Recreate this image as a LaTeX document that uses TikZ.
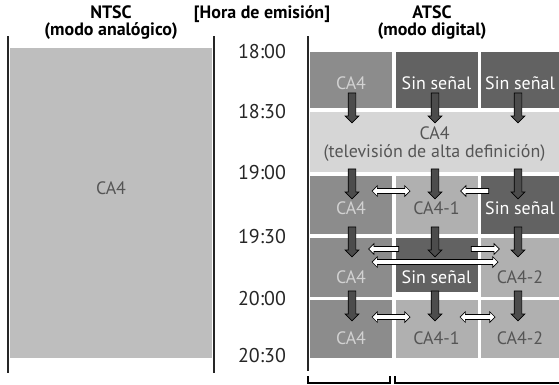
\documentclass[tikz,border=0pt]{standalone}
\usepackage{fontspec}
\setmainfont{PT Sans}
\usepackage{tikz}
\usetikzlibrary{arrows.meta, shapes.arrows, positioning}
\definecolor{grisntsc}{RGB}{190,190,190}
\definecolor{grismedio}{RGB}{140,140,140}
\definecolor{grisoscuro}{RGB}{98,98,98}
\definecolor{grisclaro}{RGB}{176,176,176}
\definecolor{grishd}{RGB}{214,214,214}
\definecolor{textogris}{RGB}{85,85,85}
\definecolor{textoclaro}{RGB}{210,210,210}
\tikzset{
  >=latex,
  % Textos de cabecera y horas
  titulo/.style={font=\bfseries\fontsize{18}{17}\selectfont, align=center},
  hora/.style={font=\fontsize{20}{22}\selectfont, text=black!85},
  linea/.style={line width=2.4bp, black!85},
  % Celdas de la parrilla
  celda/.style={rectangle, inner sep=0pt, minimum width=82bp, text depth=0pt,
    font=\fontsize{18}{18}\selectfont},
  celda ca/.style={celda, fill=grismedio, text=textoclaro},
  celda sin/.style={celda, fill=grisoscuro, text=white},
  celda sub/.style={celda, fill=grisclaro, text=textogris},
  celda hd/.style={celda, fill=grishd, text=textogris, minimum width=249bp, align=center},
  % Filas: alto y posicion del texto
  fila 1/.style={minimum height=56bp, text height=18.6bp},
  fila 2/.style={minimum height=60bp},
  fila 3/.style={minimum height=58bp, text height=18.6bp},
  fila 4/.style={minimum height=59bp, text height=32.6bp},
  fila 5/.style={minimum height=58bp, text height=30.6bp},
  % Flechas
  baja/.style={single arrow, draw=black, line width=0.7bp, fill=black!70, rotate=-90,
    minimum height=30bp, minimum width=13bp, inner xsep=0pt, inner ysep=3.5bp,
    single arrow head extend=3bp},
  doble/.style={double arrow, draw=black, line width=0.7bp, fill=white,
    minimum height=#1, minimum width=10bp, inner xsep=0pt, inner ysep=2.2bp,
    double arrow head extend=2.8bp},
  una/.style={single arrow, draw=black, line width=0.7bp, fill=white,
    minimum height=#1, minimum width=10bp, inner xsep=0pt, inner ysep=2.2bp,
    single arrow head extend=2.8bp}
}

\begin{document}
\begin{tikzpicture}[x=1bp, y=-1bp]
  \useasboundingbox (0,0) rectangle (559,384);
  % cabeceras
  \node[titulo] (ntsc) at (111,22.5) {NTSC\\(modo analógico)};
  \node[titulo] (hora) at (262,14) {[Hora de emisión]};
  \node[titulo] (atsc) at (432,22.5) {ATSC\\(modo digital)};

  % modo analogico
  \node[celda, fill=grisntsc, text=textogris, minimum width=202bp, minimum height=310bp,
    text depth=30bp] (analog) at (111,203) {CA4};
  \draw[linea] (8,36) -- (8,373);
  \draw[linea] (214,36) -- (214,373);

  % horas
  \node[hora] (h1) at (262,52) {18:00};
  \node[hora] (h2) at (262,112) {18:30};
  \node[hora] (h3) at (262,173) {19:00};
  \node[hora] (h4) at (262,237) {19:30};
  \node[hora] (h5) at (262,299) {20:00};
  \node[hora] (h6) at (262,356) {20:30};

  % modo digital
  \node[celda ca, fila 1] (c11) at (351,80) {CA4};
  \node[celda sin, fila 1] (c12) at (436.5,80) {Sin señal};
  \node[celda sin, fila 1, minimum width=78bp] (c13) at (520,80) {Sin señal};
  \node[celda hd, fila 2] (c2) at (434.5,142) {CA4\\(televisión de alta definición)};
  \node[celda ca, fila 3] (c31) at (351,205) {CA4};
  \node[celda sub, fila 3] (c32) at (436.5,205) {CA4-1};
  \node[celda sin, fila 3, minimum width=78bp] (c33) at (520,205) {Sin señal};
  \node[celda ca, fila 4] (c41) at (351,267) {CA4};
  \node[celda sin, fila 4, minimum height=54bp, text height=36.6bp] (c42) at (436.5,265) {Sin señal};
  \node[celda sub, fila 4, minimum width=78bp] (c43) at (520,267) {CA4-2};
  \node[celda ca, fila 5] (c51) at (351,329) {CA4};
  \node[celda sub, fila 5] (c52) at (436.5,329) {CA4-1};
  \node[celda sub, fila 5, minimum width=78bp] (c53) at (520,329) {CA4-2};
  \draw[linea] (308,36) -- (308,371);

  \foreach \x [count=\i] in {352,435,518}
    \foreach \y [count=\j] in {106,182,240,304}
      \node[baja] (b\i\j) at (\x,\y) {};

  \node[doble=38bp] (d3a) at (391,191) {};
  \node[una=28bp, rotate=180] (d3b) at (476,191) {};
  \node[una=30bp, rotate=180] (d4a) at (385,249) {};
  \node[una=28bp] (d4b) at (484,249) {};
  \node[doble=126bp] (d4c) at (435,262) {};
  \node[doble=38bp] (d5a) at (391,317) {};
  \node[doble=35bp] (d5b) at (477.5,317) {};

  \draw[line width=1.4bp] (308,376) -- (308,383) -- (390,383) -- (390,376);
  \draw[line width=1.4bp] (395,376) -- (395,383) -- (559,383);
\end{tikzpicture}
\end{document}
